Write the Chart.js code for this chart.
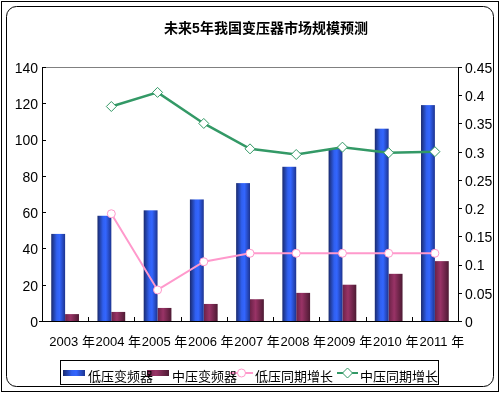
<!DOCTYPE html>
<html>
<head>
<meta charset="utf-8">
<script src="https://cdn.jsdelivr.net/npm/chart.js@4.4.0/dist/chart.umd.min.js"></script>
<style>
  html, body { margin: 0; padding: 0; background: #fff; }
</style>
</head>
<body>
<canvas id="chart" width="502" height="394"></canvas>
<script>
const years = ['2003 年', '2004 年', '2005 年', '2006 年', '2007 年', '2008 年', '2009 年', '2010 年', '2011 年'];
const lowVfd = [48, 58, 61, 67, 76, 85, 95, 106, 119];
const midVfd = [3.8, 5, 7.2, 9.4, 12, 15.5, 20, 26, 33];
const lowGrowth = [null, 0.19, 0.055, 0.105, 0.12, 0.12, 0.12, 0.12, 0.12];
const midGrowth = [null, 0.38, 0.405, 0.35, 0.305, 0.295, 0.308, 0.298, 0.30];
const leftTicks = [0, 20, 40, 60, 80, 100, 120, 140];
const rightTicks = [0, 0.05, 0.1, 0.15, 0.2, 0.25, 0.3, 0.35, 0.4, 0.45];

const FONT = '"Liberation Sans", Arial, "Noto Sans CJK SC", sans-serif';
const blueStops = [[0, '#1a2a6e'], [0.4, '#3060f0'], [0.6, '#3366ff'], [1, '#1d3490']];
const maroonStops = [[0, '#6b2247'], [0.4, '#993366'], [1, '#4d1a33']];

// frame, title, extra axis bits and legend
const decor = {
    id: 'decor',
    beforeDraw(chart) {
        const c = chart.ctx;
        c.save();
        c.fillStyle = '#fff';
        c.fillRect(0, 0, chart.width, chart.height);
        c.strokeStyle = '#000';
        c.lineWidth = 1;
        c.strokeRect(1.5, 1.5, 497, 390);
        c.beginPath();
        c.roundRect(6.5, 6.5, 487, 380, 10);
        c.stroke();
        c.restore();
    },
    afterDraw(chart) {
        const c = chart.ctx;
        const a = chart.chartArea;
        const x = chart.scales.x, y = chart.scales.y, y1 = chart.scales.y1;
        c.save();
        // title
        c.fillStyle = '#000';
        c.font = 'bold 14px ' + FONT;
        c.textAlign = 'center';
        c.textBaseline = 'middle';
        c.fillText('未来5年我国变压器市场规模预测', 266, 29);

        // top border of plot
        c.strokeStyle = '#808080';
        c.beginPath();
        c.moveTo(a.left, a.top + 0.5);
        c.lineTo(a.right, a.top + 0.5);
        c.stroke();

        // tick marks
        c.strokeStyle = '#000';
        c.beginPath();
        leftTicks.forEach(v => {
            const py = Math.round(y.getPixelForValue(v)) + 0.5;
            c.moveTo(a.left - (v === 0 ? 3 : 0), py);
            c.lineTo(a.left + 4, py);
        });
        rightTicks.forEach(v => {
            const py = Math.round(y1.getPixelForValue(v)) + 0.5;
            c.moveTo(a.right, py);
            c.lineTo(a.right + 4, py);
        });
        for (let i = 1; i < years.length; i++) {
            const px = Math.round((x.getPixelForValue(i - 1) + x.getPixelForValue(i)) / 2) + 0.5;
            c.moveTo(px, a.bottom);
            c.lineTo(px, a.bottom - 4);
        }
        c.stroke();

        // legend
        c.strokeRect(60.5, 360.5, 378, 24);
        c.font = '13px ' + FONT;
        c.textAlign = 'left';
        c.textBaseline = 'middle';
        const ds = chart.data.datasets;
        const ly = 373;
        const swatch = (sx, stops) => {
            const g = c.createLinearGradient(sx, 0, sx + 22, 0);
            stops.forEach(([p, col]) => g.addColorStop(p, col));
            c.fillStyle = g;
            c.fillRect(sx, ly - 3, 22, 6);
        };
        const lineKey = (sx, w, col, style) => {
            c.strokeStyle = col;
            c.lineWidth = 2;
            c.beginPath();
            c.moveTo(sx, ly);
            c.lineTo(sx + w, ly);
            c.stroke();
            c.fillStyle = '#fff';
            c.lineWidth = 1;
            const mx = sx + w / 2;
            c.beginPath();
            if (style === 'circle') {
                c.arc(mx, ly, 4, 0, Math.PI * 2);
            } else {
                c.moveTo(mx, ly - 5); c.lineTo(mx + 5, ly); c.lineTo(mx, ly + 5); c.lineTo(mx - 5, ly); c.closePath();
            }
            c.fill();
            c.stroke();
        };
        swatch(63, blueStops);
        swatch(147, maroonStops);
        lineKey(230, 23, ds[2].borderColor, 'circle');
        lineKey(337, 21, ds[3].borderColor, 'diamond');
        c.fillStyle = '#000';
        c.fillText(ds[0].label, 88, ly + 4);
        c.fillText(ds[1].label, 172, ly + 4);
        c.fillText(ds[2].label, 255, ly + 4);
        c.fillText(ds[3].label, 360, ly + 4);
        c.restore();
    }
};

// cylinder-like gradient for the bars
const barFill = {
    id: 'barFill',
    beforeDatasetDraw(chart, args) {
        const ds = chart.data.datasets[args.index];
        if (!ds.stops) return;
        const c = chart.ctx;
        c.save();
        args.meta.data.forEach(bar => {
            const p = bar.getProps(['x', 'y', 'base', 'width'], true);
            const l = p.x - p.width / 2;
            const g = c.createLinearGradient(l, 0, l + p.width, 0);
            ds.stops.forEach(([s, col]) => g.addColorStop(s, col));
            c.fillStyle = g;
            c.fillRect(l, p.y, p.width, p.base - p.y);
        });
        c.restore();
        return false;
    }
};

new Chart(document.getElementById('chart'), {
    data: {
        labels: years,
        datasets: [
            {
                type: 'bar',
                label: '低压变频器',
                data: lowVfd,
                backgroundColor: '#3366ff',
                stops: blueStops,
                yAxisID: 'y',
                order: 2,
                categoryPercentage: 0.6,
                barPercentage: 1
            },
            {
                type: 'bar',
                label: '中压变频器',
                data: midVfd,
                backgroundColor: '#993366',
                stops: maroonStops,
                yAxisID: 'y',
                order: 2,
                categoryPercentage: 0.6,
                barPercentage: 1
            },
            {
                type: 'line',
                label: '低压同期增长',
                data: lowGrowth,
                borderColor: '#ff99cc',
                borderWidth: 2,
                pointStyle: 'circle',
                pointRadius: 4,
                pointBorderWidth: 1,
                pointBackgroundColor: '#fff',
                pointBorderColor: '#ff99cc',
                yAxisID: 'y1',
                order: 1,
                tension: 0
            },
            {
                type: 'line',
                label: '中压同期增长',
                data: midGrowth,
                borderColor: '#339966',
                borderWidth: 2.5,
                pointStyle: 'rectRot',
                pointRadius: 5,
                pointBorderWidth: 1,
                pointBackgroundColor: '#fff',
                pointBorderColor: '#339966',
                yAxisID: 'y1',
                order: 0,
                tension: 0
            }
        ]
    },
    options: {
        responsive: false,
        animation: false,
        devicePixelRatio: 1,
        layout: { padding: { top: 67, left: 0, right: 0, bottom: 0 } },
        plugins: {
            legend: { display: false },
            title: { display: false },
            tooltip: { enabled: false }
        },
        scales: {
            x: {
                offset: true,
                grid: { display: false, drawTicks: false },
                border: { display: true, color: '#000' },
                ticks: { color: '#000', font: { family: FONT, size: 13 }, padding: 14, labelOffset: 7, maxRotation: 0, autoSkip: false },
                afterFit: s => { s.height = 73; }
            },
            y: {
                position: 'left',
                min: 0,
                max: 140,
                grid: { display: false, drawTicks: false },
                border: { display: true, color: '#000' },
                ticks: { color: '#000', font: { family: FONT, size: 14 }, padding: 4, labelOffset: 2 },
                afterBuildTicks: s => { s.ticks = leftTicks.map(v => ({ value: v })); },
                afterFit: s => { s.width = 42; }
            },
            y1: {
                position: 'right',
                min: 0,
                max: 0.45,
                grid: { display: false, drawTicks: false },
                border: { display: true, color: '#000' },
                ticks: {
                    color: '#000', font: { family: FONT, size: 14 }, padding: 7, labelOffset: 2,
                    callback: v => String(+v.toFixed(2))
                },
                afterBuildTicks: s => { s.ticks = rightTicks.map(v => ({ value: v })); },
                afterFit: s => { s.width = 44; }
            }
        }
    },
    plugins: [barFill, decor]
});
</script>
</body>
</html>
